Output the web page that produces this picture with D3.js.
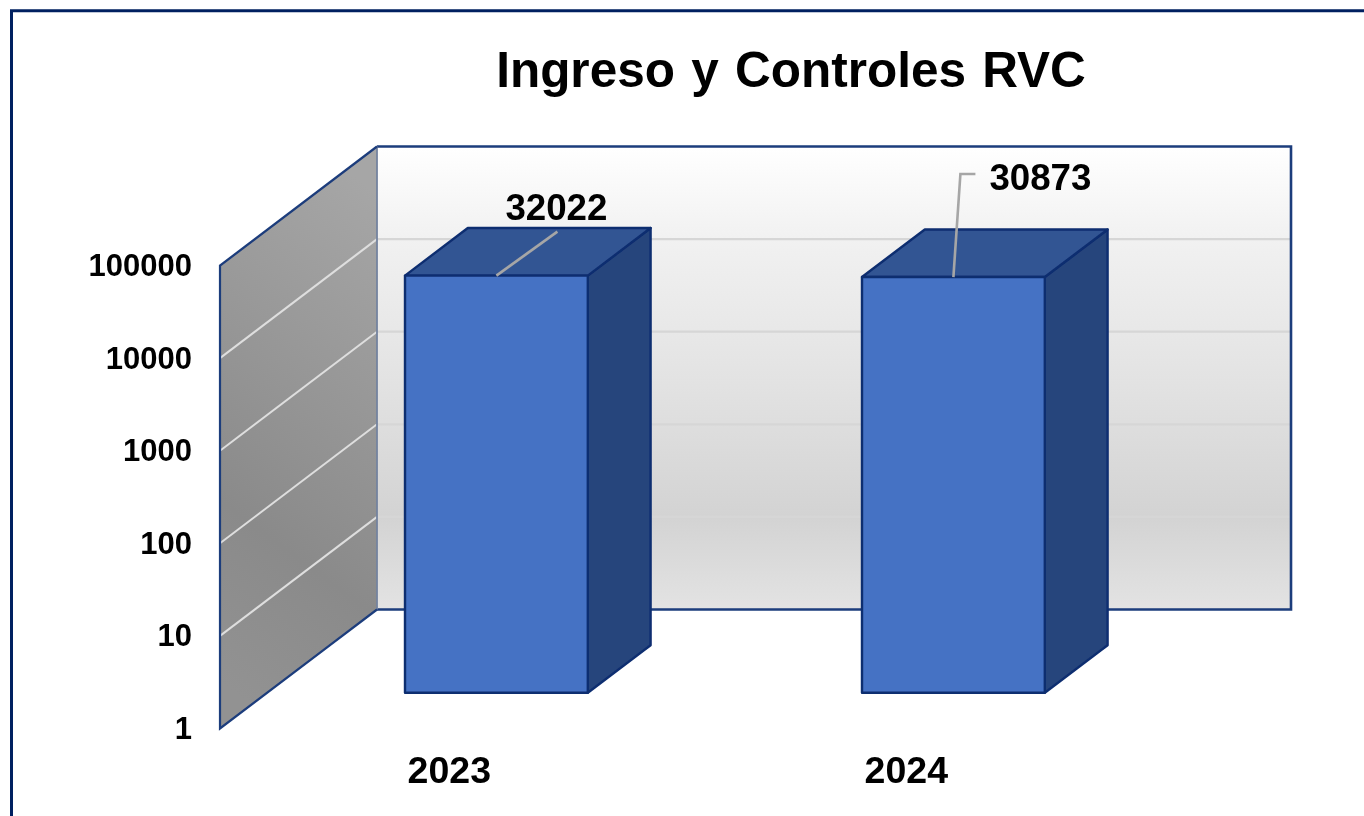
<!DOCTYPE html>
<html>
<head>
<meta charset="utf-8">
<script src="https://cdn.jsdelivr.net/npm/d3@7"></script>
<style>
html,body{margin:0;padding:0;background:#fff;overflow:hidden}
svg{display:block}
text{font-family:"Liberation Sans",Arial,sans-serif;font-weight:700;fill:#000}
</style>
</head>
<body>
<svg id="c" width="1364" height="816"></svg>
<script>
const titleText = "Ingreso y Controles RVC";
const categories = ["2023", "2024"];
const values = [32022, 30873];
const yTicks = [1, 10, 100, 1000, 10000, 100000];

const svg = d3.select("#c");
const defs = svg.append("defs");
const soft = defs.append("filter").attr("id","soft").attr("filterUnits","userSpaceOnUse")
  .attr("x",0).attr("y",0).attr("width",1364).attr("height",816);
soft.append("feGaussianBlur").attr("stdDeviation",0.55);

const back = defs.append("linearGradient").attr("id","backG").attr("x1",0).attr("x2",0).attr("y1",0).attr("y2",1);
[[0,"#ffffff"],[0.2,"#f1f1f1"],[0.5,"#e3e3e3"],[0.8,"#d3d3d3"],[1,"#e3e3e3"]]
  .forEach(s=>back.append("stop").attr("offset",s[0]).attr("stop-color",s[1]));
const side = defs.append("linearGradient").attr("id","sideG").attr("x1",0.6).attr("x2",0.4).attr("y1",0).attr("y2",1);
[[0,"#a6a6a6"],[0.7,"#8a8a8a"],[1,"#929292"]]
  .forEach(s=>side.append("stop").attr("offset",s[0]).attr("stop-color",s[1]));

// page frame
svg.append("path").attr("d","M11.5,816V10.7H1364").attr("fill","none").attr("stroke","#002060").attr("stroke-width",3);

const g = svg.append("g").attr("filter","url(#soft)");

// scales: floor position, log value, and oblique depth
const floorLeft = 220, floorWidth = 914;
const x = d3.scaleBand().domain(categories).range([floorLeft + 0.8, floorLeft + floorWidth + 0.8]).paddingInner(0.6).paddingOuter(0.3);
const y = d3.scaleLog().domain([1, 100000]).range([728.5, 265.5]);
const depthX = d3.scaleLinear().domain([0,1]).range([0,157]);
const depthY = d3.scaleLinear().domain([0,1]).range([0,-119]);
const P = (px, v, d) => [px + depthX(d), y(v) + depthY(d)];
const poly = pts => "M" + pts.map(p=>p.map(n=>+n.toFixed(2)).join(",")).join("L") + "Z";
const line = pts => "M" + pts.map(p=>p.map(n=>+n.toFixed(2)).join(",")).join("L");

const [vMin, vMax] = y.domain();
const fR = floorLeft + floorWidth;

// back wall
g.append("path").attr("d",poly([P(floorLeft,vMax,1),P(fR,vMax,1),P(fR,vMin,1),P(floorLeft,vMin,1)]))
  .attr("fill","url(#backG)");
// side wall
g.append("path").attr("d",poly([P(floorLeft,vMax,0),P(floorLeft,vMax,1),P(floorLeft,vMin,1),P(floorLeft,vMin,0)]))
  .attr("fill","url(#sideG)");

// gridlines
g.selectAll("path.gs").data(yTicks.slice(1,-1)).enter().append("path").attr("class","gs")
  .attr("d",v=>line([P(floorLeft,v,0),P(floorLeft,v,1)])).attr("fill","none").attr("stroke","#dedede").attr("stroke-width",2);
g.selectAll("path.gb").data(yTicks.slice(1,-1)).enter().append("path").attr("class","gb")
  .attr("d",v=>line([P(floorLeft,v,1),P(fR,v,1)])).attr("fill","none").attr("stroke","#d6d6d6").attr("stroke-width",2.2);

// wall outlines
const navy = "#1c3c7c";
g.append("path").attr("d",line([P(floorLeft,vMin,1),P(fR,vMin,1),P(fR,vMax,1),P(floorLeft,vMax,1)]))
  .attr("fill","none").attr("stroke",navy).attr("stroke-width",2.6);
g.append("path").attr("d",line([P(floorLeft,vMax,1),P(floorLeft,vMin,1)]))
  .attr("fill","none").attr("stroke","#74839f").attr("stroke-width",1.8);
g.append("path").attr("d",line([P(floorLeft,vMax,1),P(floorLeft,vMax,0),P(floorLeft,vMin,0),P(floorLeft,vMin,1)]))
  .attr("fill","none").attr("stroke",navy).attr("stroke-width",2.2);

// bars
const d0 = 0.3, d1 = 0.7;
const edge = "#0e2d70";
const rows = categories.map((c,i)=>({c, v:values[i]}));
const bars = g.selectAll("g.bar").data(rows).enter().append("g").attr("class","bar")
  .attr("stroke",edge).attr("stroke-width",2.4).attr("stroke-linejoin","round");
bars.append("path").attr("fill","#27457b").attr("d",d=>{
  const r=x(d.c)+x.bandwidth();
  return poly([P(r,d.v,d0),P(r,d.v,d1),P(r,vMin,d1),P(r,vMin,d0)]);
});
bars.append("path").attr("fill","#335593").attr("d",d=>{
  const l=x(d.c), r=l+x.bandwidth();
  return poly([P(l,d.v,d0),P(l,d.v,d1),P(r,d.v,d1),P(r,d.v,d0)]);
});
bars.append("path").attr("fill","#4472c4").attr("d",d=>{
  const l=x(d.c), r=l+x.bandwidth();
  return poly([P(l,d.v,d0),P(r,d.v,d0),P(r,vMin,d0),P(l,vMin,d0)]);
});

// leader lines and data labels
const leaderOffsets = [[[61,-44]], [[7,-103],[22,-103]]];
const labelOffsets = [[60,-56],[87,-87]];
rows.forEach((d,i)=>{
  const o = P(x(d.c)+x.bandwidth()/2, d.v, d0);
  g.append("path").attr("d",line([o].concat(leaderOffsets[i].map(p=>[o[0]+p[0],o[1]+p[1]]))))
    .attr("fill","none").attr("stroke","#a6a6a6").attr("stroke-width",2.6);
  g.append("text").attr("x",o[0]+labelOffsets[i][0]).attr("y",o[1]+labelOffsets[i][1])
    .attr("text-anchor","middle").attr("font-size",36.7).text(d.v);
});

// axes
const yAxis = d3.axisLeft(y).tickValues(yTicks).tickFormat(d3.format("d")).tickSize(0).tickPadding(28);
const ya = g.append("g").attr("transform",`translate(${floorLeft},0)`).call(yAxis);
ya.select(".domain").remove();
ya.selectAll("text").attr("font-size",31).attr("fill","#000").style("font-family",'"Liberation Sans",Arial,sans-serif');

const xAxis = d3.axisBottom(x).tickSize(0).tickPadding(0);
const xa = g.append("g").attr("transform","translate(0,756)").call(xAxis);
xa.select(".domain").remove();
xa.selectAll("text").attr("font-size",37.5).attr("fill","#000").style("font-family",'"Liberation Sans",Arial,sans-serif');

// title
g.append("text").attr("x",791).attr("y",87).attr("text-anchor","middle").attr("font-size",49.5).attr("word-spacing",2.5).text(titleText);
</script>
</body>
</html>
